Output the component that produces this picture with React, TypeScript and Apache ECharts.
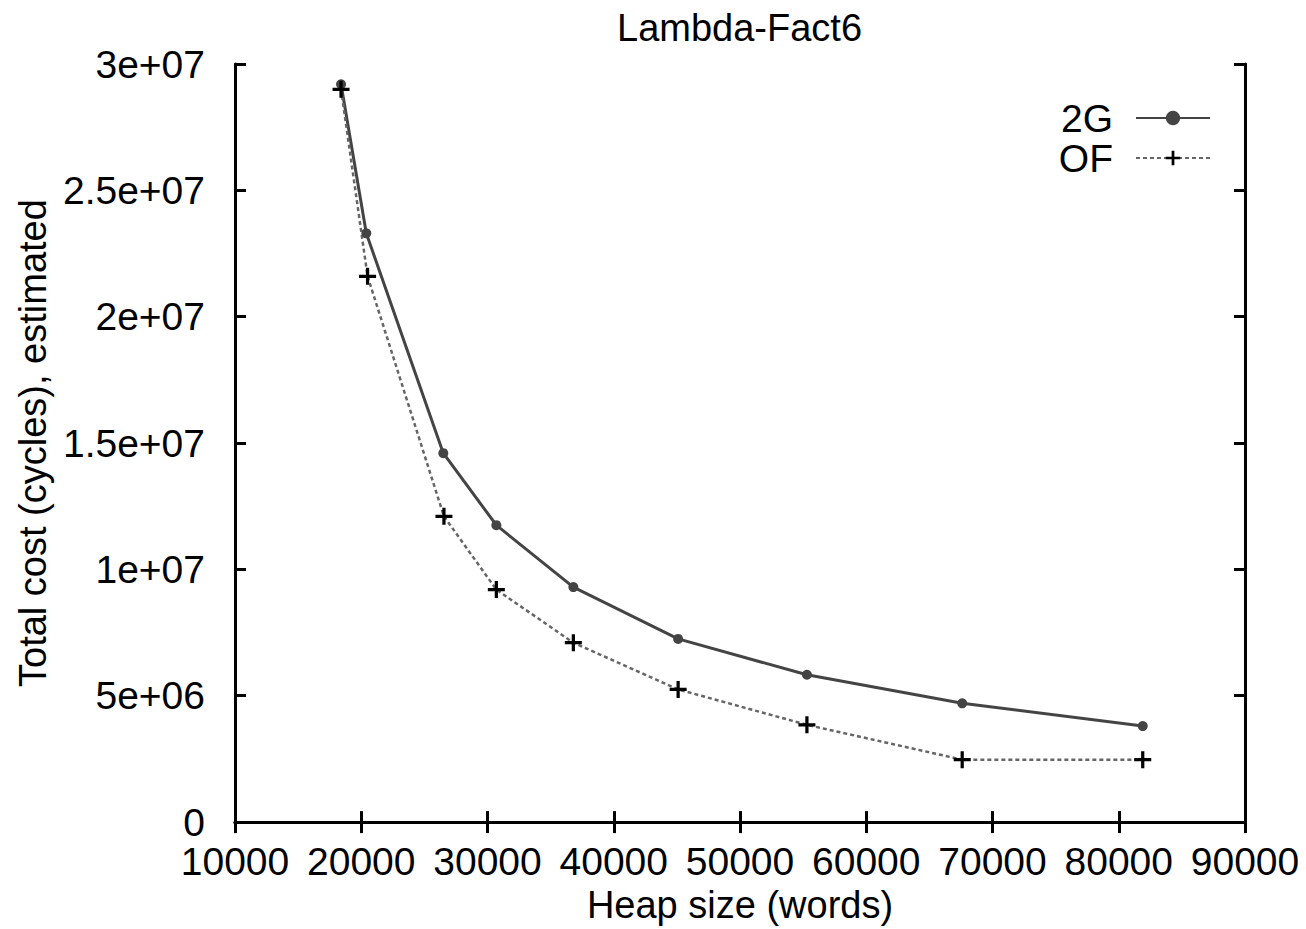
import React, { useEffect, useRef } from "react";
import * as echarts from "echarts";

const heapSizes2G = [18400, 20400, 26500, 30700, 36800, 45100, 55300, 67600, 81900];
const cost2G = [29.2e6, 23.3e6, 14.6e6, 11.75e6, 9.3e6, 7.25e6, 5.83e6, 4.7e6, 3.8e6];
const heapSizesOF = [18400, 20500, 26550, 30700, 36800, 45100, 55300, 67600, 81900];
const costOF = [29.0e6, 21.6e6, 12.1e6, 9.2e6, 7.1e6, 5.25e6, 3.85e6, 2.47e6, 2.47e6];

const xTicks = [10000, 20000, 30000, 40000, 50000, 60000, 70000, 80000, 90000];
const xTickLabels = ["10000", "20000", "30000", "40000", "50000", "60000", "70000", "80000", "90000"];
const yTickValues = [0, 5e6, 10e6, 15e6, 20e6, 25e6, 30e6];
const yTickLabels = ["0", "5e+06", "1e+07", "1.5e+07", "2e+07", "2.5e+07", "3e+07"];

const seriesNames = ["2G", "OF"];
const titleText = "Lambda-Fact6";
const xName = "Heap size (words)";
const yName = "Total cost (cycles), estimated";

const FONT = "Liberation Sans, Arial, sans-serif";
const PLUS =
  "path://M-1,-0.19 L-0.19,-0.19 L-0.19,-1 L0.19,-1 L0.19,-0.19 L1,-0.19 L1,0.19 L0.19,0.19 L0.19,1 L-0.19,1 L-0.19,0.19 L-1,0.19 Z";

export default function App() {
  const ref = useRef<HTMLDivElement>(null);
  useEffect(() => {
    if (!ref.current) return;
    const chart = echarts.init(ref.current, undefined, { renderer: "svg" });
    const axisCommon = {
      axisLine: { show: true, lineStyle: { color: "#000", width: 3 } },
      axisTick: { show: true, inside: true, length: 11, lineStyle: { color: "#000", width: 3 } },
      splitLine: { show: false },
    };
    chart.setOption({
      animation: false,
      backgroundColor: "#fff",
      title: {
        text: titleText,
        left: 612,
        top: 4,
        textStyle: { fontFamily: FONT, fontSize: 38, fontWeight: "normal", color: "#000" },
      },
      legend: {
        orient: "vertical",
        align: "right",
        right: 90,
        top: 93,
        itemGap: 0,
        itemWidth: 74,
        itemHeight: 18,
        textStyle: {
          fontFamily: FONT,
          fontSize: 39,
          color: "#000",
          lineHeight: 40,
          padding: [0, 18, 0, 0],
        },
        data: seriesNames,
      },
      grid: { left: 235, right: 61, top: 64, bottom: 99 },
      xAxis: [
        {
          type: "value",
          min: xTicks[0],
          max: xTicks[xTicks.length - 1],
          interval: xTicks[1] - xTicks[0],
          position: "bottom",
          name: xName,
          nameLocation: "middle",
          nameGap: 62,
          nameTextStyle: { fontFamily: FONT, fontSize: 38, color: "#000" },
          axisLabel: {
            fontFamily: FONT,
            fontSize: 39,
            color: "#000",
            margin: 20,
            formatter: (v: number) => {
              const i = xTicks.indexOf(v);
              return i >= 0 ? xTickLabels[i] : "";
            },
          },
          ...axisCommon,
        },
        {
          type: "value",
          min: xTicks[0],
          max: xTicks[xTicks.length - 1],
          interval: xTicks[1] - xTicks[0],
          position: "top",
          axisLabel: { show: false },
          ...axisCommon,
        },
      ],
      yAxis: [
        {
          type: "value",
          min: yTickValues[0],
          max: yTickValues[yTickValues.length - 1],
          interval: yTickValues[1] - yTickValues[0],
          position: "left",
          name: yName,
          nameLocation: "middle",
          nameGap: 178,
          nameTextStyle: { fontFamily: FONT, fontSize: 38, color: "#000" },
          axisLabel: {
            fontFamily: FONT,
            fontSize: 39,
            color: "#000",
            margin: 30,
            formatter: (v: number) => {
              const i = yTickValues.indexOf(v);
              return i >= 0 ? yTickLabels[i] : "";
            },
          },
          ...axisCommon,
        },
        {
          type: "value",
          min: yTickValues[0],
          max: yTickValues[yTickValues.length - 1],
          interval: yTickValues[1] - yTickValues[0],
          position: "right",
          axisLabel: { show: false },
          ...axisCommon,
        },
      ],
      series: [
        {
          name: seriesNames[0],
          type: "line",
          data: heapSizes2G.map((x, i) => [x, cost2G[i]]),
          symbol: "circle",
          symbolSize: 10,
          itemStyle: { color: "#444" },
          lineStyle: { color: "#444", width: 3 },
        },
        {
          name: seriesNames[1],
          type: "line",
          data: heapSizesOF.map((x, i) => [x, costOF[i]]),
          symbol: PLUS,
          symbolSize: 17,
          itemStyle: { color: "#000" },
          lineStyle: { color: "#666", width: 2.5, type: [4, 3] },
        },
      ],
    });
    return () => chart.dispose();
  }, []);
  return (
    <div
      ref={ref}
      style={{ position: "fixed", left: 0, top: 0, width: 1306, height: 929, background: "#fff" }}
    />
  );
}
